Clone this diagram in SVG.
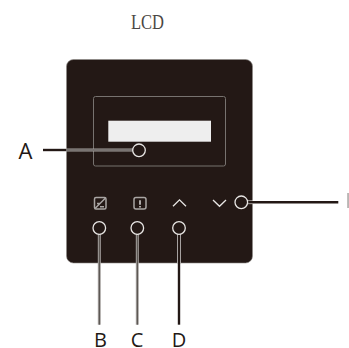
<svg xmlns="http://www.w3.org/2000/svg" width="349" height="348" viewBox="0 0 349 348">
<style>
.lbl{font-family:"Open Sans","Noto Sans",sans-serif;font-size:20px;fill:#231815;text-anchor:middle}
.ring{fill:none;stroke:#e8e6e4;stroke-width:1.300}
.ln{fill:none;stroke:#231815;stroke-width:2.400}
.lg{fill:none;stroke:#a8a4a2;stroke-width:3}
.core{fill:none;stroke:#4a4542;stroke-width:1}
.halo{fill:none;stroke:#f2f0ee;stroke-width:3.600}
.ic{fill:none;stroke:#a9a5a3;stroke-width:1.500}
.chev{fill:none;stroke:#e8e6e4;stroke-width:1.300}
</style>
<g id="title"><text x="147.500" y="29" font-family="'Liberation Serif',serif" font-size="22" fill="#4a4643" text-anchor="middle" textLength="33" lengthAdjust="spacingAndGlyphs">LCD</text></g>
<g id="panel"><rect x="66.500" y="59.500" width="186" height="203.500" rx="7" fill="#231815" stroke="#8f8b88" stroke-width="0.600"/></g>
<g id="lcd-frame"><rect x="93.500" y="96.500" width="132" height="69.500" rx="2" fill="none" stroke="#77726f" stroke-width="1"/></g>
<g id="lcd-screen"><rect x="108.300" y="120.700" width="102.700" height="21" fill="#eeeeee"/></g>
<g id="btn-b"><rect x="94.500" y="197.500" width="11.500" height="11.500" rx="1.500" class="ic"/><path class="ic" stroke-width="1.200" d="M95 208.500L105.500 198M97 203.500H100M100 206.800H104"/></g>
<g id="btn-c"><rect x="134" y="197.500" width="12" height="11.500" rx="2" class="ic"/><path d="M140 200.300V204.800M140 206V207.400" fill="none" stroke="#e8e6e4" stroke-width="1.400"/></g>
<g id="btn-up"><path class="chev" d="M173 206.300L179.500 199.800L186 206.300"/></g>
<g id="btn-down"><path class="chev" d="M213 200L219.500 206.300L226 200"/></g>
<g id="connectors">
<path class="lg" d="M66 150H133"/><path class="core" d="M66 150H133"/><path class="ln" d="M43 150H66"/>
<circle class="ring" cx="139" cy="150.300" r="6.300"/>
<path class="lg" d="M99.300 234V324.700"/><path class="core" d="M99.300 234V324.700"/><circle class="ring" cx="99.300" cy="228" r="6.300"/>
<path class="lg" d="M137.300 234V324.700"/><path class="core" d="M137.300 234V324.700"/><circle class="ring" cx="137.300" cy="228" r="6.300"/>
<path class="halo" d="M179 234V263"/><path class="ln" d="M179 234V324.700"/><circle class="ring" cx="179" cy="228" r="6.300"/>
<path class="halo" d="M247 202.300H253"/><path class="ln" d="M247 202.300H338.300"/><circle class="ring" cx="241.300" cy="202.300" r="6.300"/>
</g>
<g id="labels">
<text class="lbl" x="25.500" y="158.500" font-size="22" style="font-size:22px">A</text>
<text class="lbl" x="100.500" y="347">B</text>
<text class="lbl" x="137" y="347">C</text>
<text class="lbl" x="179" y="347">D</text>
<rect x="347.300" y="193" width="1.500" height="15" fill="#a8a4a2"/>
</g>
</svg>
